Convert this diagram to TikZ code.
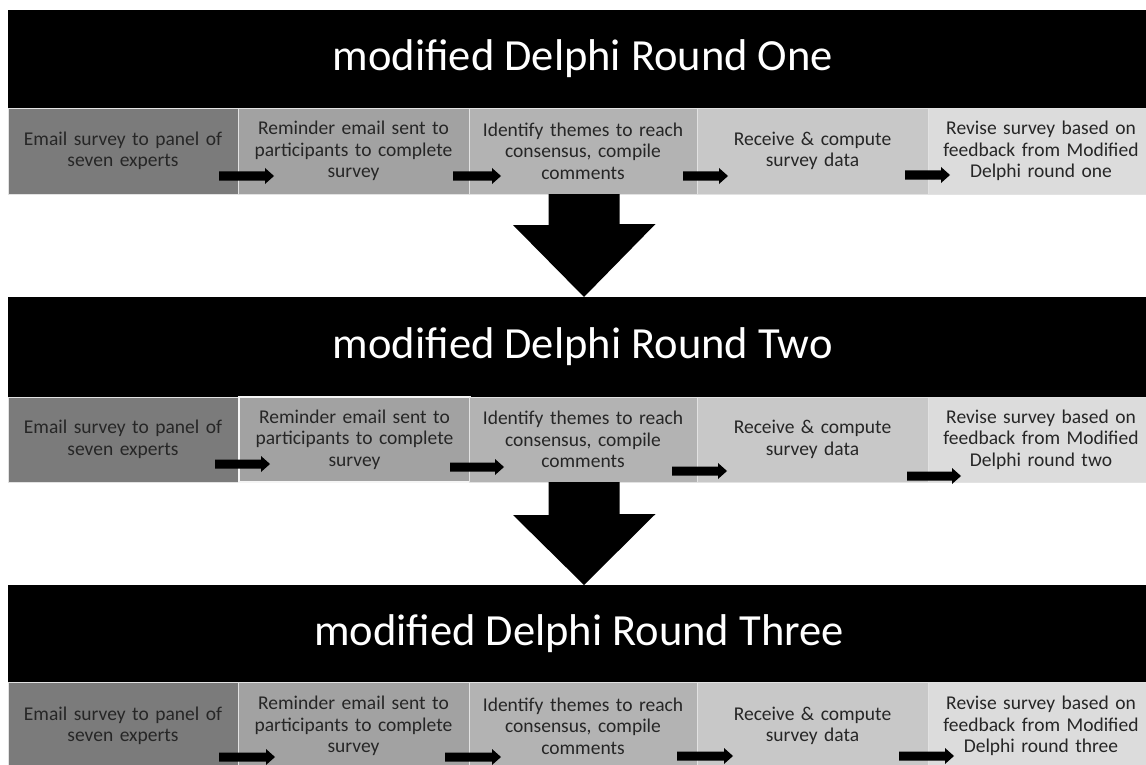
\documentclass[tikz,border=0pt]{standalone}
\usepackage{fontspec}
\setmainfont{Carlito}
\definecolor{cA}{HTML}{7B7B7B}
\definecolor{cB}{HTML}{A2A2A2}
\definecolor{cC}{HTML}{B3B3B3}
\definecolor{cD}{HTML}{C8C8C8}
\definecolor{cE}{HTML}{DCDCDC}
\definecolor{txt}{HTML}{262626}
\definecolor{sep}{HTML}{E2E2E2}
\newcommand\cellfont{\fontsize{19.5}{21.5}\selectfont\spaceskip=0.15em plus 0.05em\relax}
\tikzset{
  hdr/.style={fill=black, text=white, anchor=north west, inner sep=0pt, outer sep=0pt,
    minimum width=1138pt, font=\fontsize{44.5}{50}\selectfont},
  cell/.style={anchor=north west, inner sep=0pt, outer sep=0pt, draw=sep, line width=0.6pt,
    text=txt, text width=226pt, align=center, font=\cellfont},
  bigarrow/.style={fill=black},
  smallarrow/.style={fill=black}
}
\newcommand\sarr[3]{\fill[smallarrow] (#1,#3-4.5) -- (#2-9,#3-4.5) -- (#2-9,#3-8) -- (#2,#3) -- (#2-9,#3+8) -- (#2-9,#3+4.5) -- (#1,#3+4.5) -- cycle;}
\begin{document}
\begin{tikzpicture}[x=1pt,y=-1pt]
\useasboundingbox (0,0) rectangle (1146,765);
\begin{scope}
\clip (0,0) rectangle (1146,765);
% ---------- Round One ----------
\node[hdr, minimum height=98pt] (h1) at (8,10) {\hspace*{12pt}modified Delphi Round One};
\node[cell, fill=cA, minimum width=230pt, minimum height=86pt] (a1) at (8,108) {Email survey to panel of\\seven experts};
\node[cell, fill=cB, minimum width=231pt, minimum height=86pt] (b1) at (238,108) {Reminder email sent to\\participants to complete\\survey};
\node[cell, fill=cC, minimum width=228pt, minimum height=86pt] (c1) at (469,108) {Identify themes to reach\\consensus, compile\\comments};
\node[cell, fill=cD, minimum width=231pt, minimum height=86pt] (d1) at (697,108) {Receive \& compute\\survey data};
\node[cell, fill=cE, minimum width=218pt, minimum height=86pt] (e1) at (928,108) {Revise survey based on\\feedback from Modified\\Delphi round one};
\sarr{219}{274}{176}
\sarr{453}{501}{176}
\sarr{683}{728}{176}
\sarr{905}{950}{175}
% ---------- Round Two ----------
\node[hdr, minimum height=100pt] (h2) at (8,297) {\hspace*{12pt}modified Delphi Round Two};
\node[cell, fill=cA, minimum width=230pt, minimum height=85pt] (a2) at (8,397) {Email survey to panel of\\seven experts};
\node[cell, fill=cB, minimum width=231pt, minimum height=85pt, draw=white!92!gray, line width=1.3pt] (b2) at (239,397) {Reminder email sent to\\participants to complete\\survey};
\node[cell, fill=cC, minimum width=228pt, minimum height=85pt] (c2) at (469,397) {Identify themes to reach\\consensus, compile\\comments};
\node[cell, fill=cD, minimum width=231pt, minimum height=85pt] (d2) at (697,397) {Receive \& compute\\survey data};
\node[cell, fill=cE, minimum width=218pt, minimum height=85pt] (e2) at (928,397) {Revise survey based on\\feedback from Modified\\Delphi round two};
\sarr{215}{270}{464}
\sarr{450}{504}{467}
\sarr{672}{727}{471}
\sarr{907}{961}{476}
% ---------- Round Three ----------
\node[hdr, minimum height=97pt] (h3) at (8,585) {\hspace*{4pt}modified Delphi Round Three};
\node[cell, fill=cA, minimum width=230pt, minimum height=88pt] (a3) at (8,682) {Email survey to panel of\\seven experts};
\node[cell, fill=cB, minimum width=231pt, minimum height=88pt] (b3) at (238,682) {Reminder email sent to\\participants to complete\\survey};
\node[cell, fill=cC, minimum width=228pt, minimum height=88pt] (c3) at (469,682) {Identify themes to reach\\consensus, compile\\comments};
\node[cell, fill=cD, minimum width=231pt, minimum height=88pt] (d3) at (697,682) {Receive \& compute\\survey data};
\node[cell, fill=cE, minimum width=218pt, minimum height=88pt] (e3) at (928,682) {Revise survey based on\\feedback from Modified\\Delphi round three};
\sarr{219}{275}{757}
\sarr{445}{501}{757}
\sarr{677}{733}{756}
\sarr{899}{954}{756}
% ---------- big arrows ----------
\coordinate (t1) at (584,297);
\coordinate (t2) at (584,585);
\fill[bigarrow] (t1 |- c1.south) ++(-35.5,0) -- ++(71,0) -- ++(0,30) -- ++(36,0) -- (t1) -- (513,225) -- (548.5,225) -- cycle;
\fill[bigarrow] (t2 |- c2.south) ++(-35.5,0) -- ++(71,0) -- ++(0,32) -- ++(36,0) -- (t2) -- (513,515) -- (548.5,515) -- cycle;
\end{scope}
\end{tikzpicture}
\end{document}
